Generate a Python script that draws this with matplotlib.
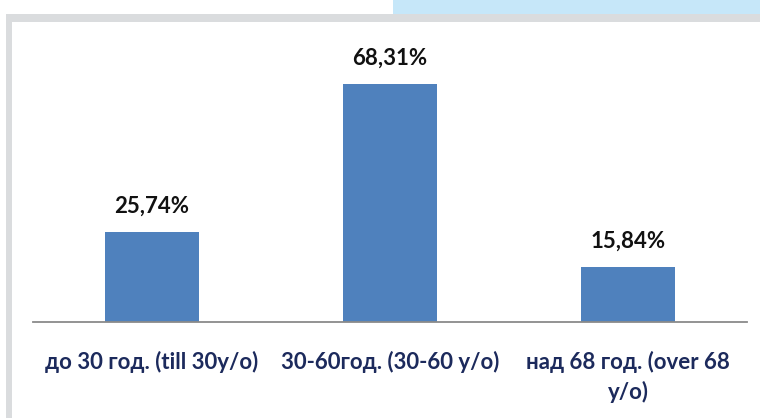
import matplotlib
matplotlib.use('Agg')
import matplotlib.pyplot as plt
from matplotlib.patches import Rectangle

# age groups and their share of respondents
categories = ['до 30 год. (till 30y/o)', '30-60год. (30-60 y/o)', 'над 68 год. (over 68\ny/o)']
shares = [25.74, 68.31, 15.84]
share_labels = ['25,74%', '68,31%', '15,84%']

W, H = 760, 418
plt.rcParams['font.family'] = ['Lato', 'Open Sans', 'DejaVu Sans']

fig = plt.figure(figsize=(W / 100, H / 100), dpi=100)
fig.patch.set_facecolor('white')


def px_rect(x0, y0, x1, y1, color, z):
    # rectangle given in pixel coords measured from the top-left corner
    fig.patches.append(Rectangle((x0 / W, 1 - y1 / H), (x1 - x0) / W, (y1 - y0) / H,
                                 transform=fig.transFigure, facecolor=color,
                                 edgecolor='none', zorder=z))


# frame around the chart and the strip above it
px_rect(393, 0, W + 5, 14, '#c6e7f9', 0)
px_rect(6, 14, W + 5, H + 5, '#dadcde', 0)
px_rect(12, 22, W + 5, H + 5, 'white', 1)

ax = fig.add_axes([33 / W, (H - 322) / H, 714 / W, 278.7 / H])
ax.set_facecolor('none')
ax.set_zorder(2)

x = range(len(categories))
ax.bar(x, shares, width=0.395, color='#4f81bd')
ax.set_xlim(-0.5, 2.5)
ax.set_ylim(0, 80)

for xi, v, lab in zip(x, shares, share_labels):
    ax.annotate(lab, (xi, v), xytext=(0, 18.5), textcoords='offset points',
                ha='center', va='center', fontsize=16, fontweight='bold',
                color='#111111')

ax.set_xticks(list(x))
ax.set_xticklabels(categories, fontsize=16, fontweight='bold', color='#1c2a5c',
                   linespacing=1.42)
ax.tick_params(axis='x', length=0, pad=21)
ax.set_yticks([])
for s in ['left', 'right', 'top']:
    ax.spines[s].set_visible(False)
ax.spines['bottom'].set_color('#8a8a8a')
ax.spines['bottom'].set_linewidth(1.3)

fig.savefig('out.png', dpi=100)
